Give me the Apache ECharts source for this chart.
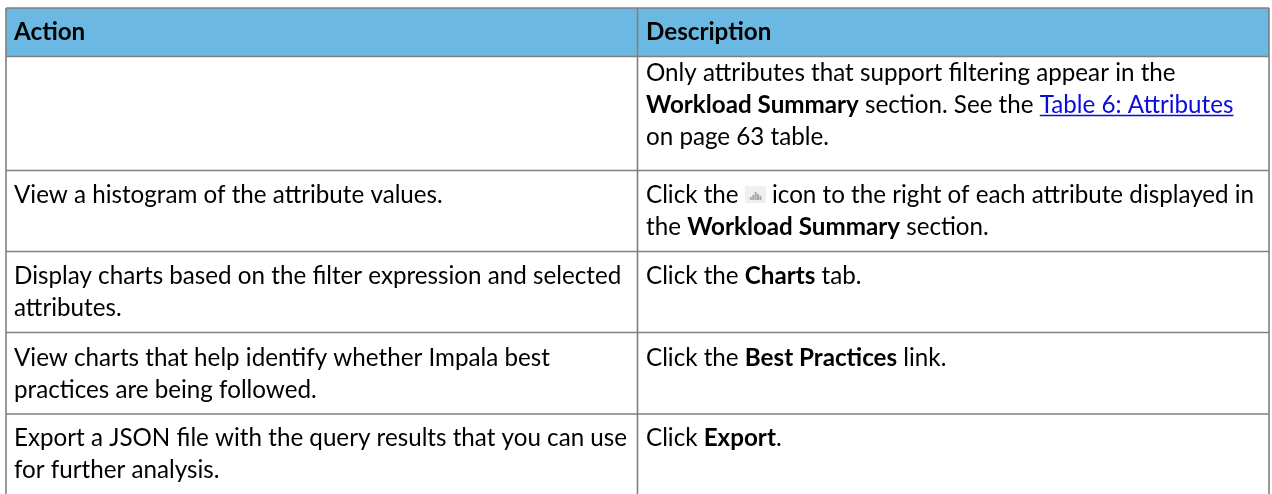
<!DOCTYPE html>
<html>
<head>
<meta charset="utf-8">
<style>html,body{margin:0;padding:0;background:#fff}#main{width:1272px;height:494px}</style>
<script src="https://cdn.jsdelivr.net/npm/echarts@6/dist/echarts.min.js"></script>
</head>
<body>
<div id="main"></div>
<script>
var headers = ['Action', 'Description'];
// *bold*, [link], ^ is the little histogram icon
var actionLines = [
    [],
    ['View a histogram of the attribute values.'],
    ['Display charts based on the filter expression and selected', 'attributes.'],
    ['View charts that help identify whether Impala best', 'practices are being followed.'],
    ['Export a JSON file with the query results that you can use', 'for further analysis.']
];
var descLines = [
    ['Only attributes that support filtering appear in the', '*Workload Summary* section. See the [Table 6: Attributes]', 'on page 63 table.'],
    ['Click the ^ icon to the right of each attribute displayed in', 'the *Workload Summary* section.'],
    ['Click the *Charts* tab.'],
    ['Click the *Best Practices* link.'],
    ['Click *Export*.']
];
var rowLines = [8, 56.5, 170.5, 251.5, 332.5, 414];
var colLines = [6, 637.5, 1269];
var firstLineY = [73, 195, 276, 358, 438];
var iconBars = [3, 5, 8, 6, 4];

var fontName = 'Lato';
var fontSize = 24.2;
var lineH = 32;
var lineColor = '#808080';
var els = [];
var measure = document.createElement('canvas').getContext('2d');

els.push({type: 'rect', shape: {x: colLines[0], y: rowLines[0], width: colLines[2] - colLines[0], height: rowLines[1] - rowLines[0]}, style: {fill: '#6bb9e3'}});

rowLines.forEach(function (y) {
    els.push({type: 'line', shape: {x1: colLines[0], y1: y, x2: colLines[2], y2: y}, style: {stroke: lineColor, lineWidth: 1.6}});
});
colLines.forEach(function (x) {
    els.push({type: 'line', shape: {x1: x, y1: rowLines[0], x2: x, y2: 494}, style: {stroke: lineColor, lineWidth: 1.6}});
});

function addRun(s, x, y, bold, color) {
    var font = (bold ? 'bold ' : '') + fontSize + 'px ' + fontName;
    measure.font = font;
    els.push({type: 'text', x: x, y: y, style: {text: s, font: font, fill: color, textVerticalAlign: 'middle'}});
    return measure.measureText(s).width;
}

function addIcon(x, y) {
    els.push({type: 'rect', shape: {x: x, y: y - 9, width: 21, height: 17}, style: {fill: '#efefef'}});
    iconBars.forEach(function (h, i) {
        els.push({type: 'rect', shape: {x: x + 5 + i * 2.4, y: y + 5 - h, width: 2, height: h}, style: {fill: '#a8a8a8'}});
    });
}

// one text line, split into plain / bold / link pieces
function addLine(s, x, y) {
    s.split(/(\*[^*]+\*|\[[^\]]+\]|\^)/).forEach(function (p) {
        if (!p) return;
        if (p === '^') {
            addIcon(x, y);
            x += 21;
        } else if (p.charAt(0) === '*') {
            x += addRun(p.slice(1, -1), x, y, true, '#000');
        } else if (p.charAt(0) === '[') {
            var w = addRun(p.slice(1, -1), x, y, false, '#0b0bdc');
            els.push({type: 'line', shape: {x1: x, y1: y + 10.5, x2: x + w, y2: y + 10.5}, style: {stroke: '#0b0bdc', lineWidth: 1.5}});
            x += w;
        } else {
            x += addRun(p, x, y, false, '#000');
        }
    });
}

addRun(headers[0], colLines[0] + 8, 32, true, '#000');
addRun(headers[1], colLines[1] + 8.5, 32, true, '#000');

actionLines.forEach(function (lines, r) {
    lines.forEach(function (s, i) { addLine(s, colLines[0] + 8, firstLineY[r] + i * lineH); });
});
descLines.forEach(function (lines, r) {
    lines.forEach(function (s, i) { addLine(s, colLines[1] + 8.5, firstLineY[r] + i * lineH); });
});

var chart = echarts.init(document.getElementById('main'));
chart.setOption({animation: false, graphic: {elements: els}});
</script>
</body>
</html>
